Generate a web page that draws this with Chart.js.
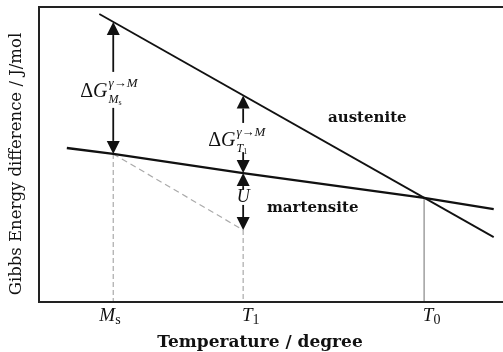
<!DOCTYPE html>
<html>
<head>
<meta charset="utf-8">
<script src="https://cdn.jsdelivr.net/npm/chart.js@4.4.1/dist/chart.umd.min.js"></script>
<style>
  body { margin: 0; background: #fff; }
  canvas { display: block; }
</style>
</head>
<body>
<canvas id="chart" width="503" height="352"></canvas>
<script>
// free energy curves, arbitrary units (temperature 0-100, energy 0-100)
const austeniteT = [13, 98]
const austeniteG = [97.6, 22]
const martensiteT = [6, 16, 44, 83, 98]
const martensiteG = [52.2, 50.2, 43.7, 35.3, 31.5]
// extrapolated (dashed) line from Ms to T1
const undercoolT = [16, 44]
const undercoolG = [50.2, 24.4]

// marked temperatures: Ms, T1, T0
const markT = [16, 44, 83]
const markG = [50.2, 24.4, 35.3]
const markName = ['M', 'T', 'T']
const markSub = ['s', '1', '0']

// arrows: shaft start -> tip
const arrowT = [16, 16, 44, 44, 44, 44]
const arrowFrom = [78, 65.8, 60.7, 50.8, 38, 32.9]
const arrowTo = [94.9, 50.2, 70.0, 43.7, 43.7, 24.4]

const toPoints = (xs, ys) => xs.map((x, i) => ({x: x, y: ys[i]}))

const serif = '"Liberation Serif", "DejaVu Serif", serif'
const wideSerif = '"DejaVu Serif", serif'

const datasets = [
  {data: toPoints(austeniteT, austeniteG), borderColor: '#111', borderWidth: 1.8},
  {data: toPoints(martensiteT, martensiteG), borderColor: '#111', borderWidth: 2.4},
  {data: toPoints(undercoolT, undercoolG), borderColor: '#aaa', borderWidth: 1.2, borderDash: [6, 4]},
  {data: toPoints([markT[0], markT[0]], [markG[0], 0]), borderColor: '#aaa', borderWidth: 1.2, borderDash: [5, 3]},
  {data: toPoints([markT[1], markT[1]], [markG[1], 0]), borderColor: '#aaa', borderWidth: 1.2, borderDash: [5, 3]},
  {data: toPoints([markT[2], markT[2]], [markG[2], 0]), borderColor: '#999', borderWidth: 1.4}
]
datasets.forEach(d => { d.pointRadius = 0; d.fill = false; d.tension = 0 })

// draws frame, arrows and all the text
const annotations = {
  id: 'annotations',
  afterDatasetsDraw(chart) {
    const ctx = chart.ctx
    const a = chart.chartArea
    const sx = chart.scales.x
    const sy = chart.scales.y
    ctx.save()

    // frame (no right side)
    ctx.strokeStyle = '#222'
    ctx.lineWidth = 2
    ctx.beginPath()
    ctx.moveTo(a.right, a.top)
    ctx.lineTo(a.left, a.top)
    ctx.lineTo(a.left, a.bottom)
    ctx.lineTo(a.right, a.bottom)
    ctx.stroke()

    // arrows
    ctx.fillStyle = '#111'
    ctx.strokeStyle = '#111'
    ctx.lineWidth = 1.8
    arrowT.forEach((t, i) => {
      const px = sx.getPixelForValue(t)
      const y0 = sy.getPixelForValue(arrowFrom[i])
      const y1 = sy.getPixelForValue(arrowTo[i])
      const dir = y1 > y0 ? 1 : -1
      const head = 13
      ctx.beginPath()
      ctx.moveTo(px, y0)
      ctx.lineTo(px, y1 - dir * head)
      ctx.stroke()
      ctx.beginPath()
      ctx.moveTo(px, y1)
      ctx.lineTo(px - 6.5, y1 - dir * head)
      ctx.lineTo(px + 6.5, y1 - dir * head)
      ctx.closePath()
      ctx.fill()
    })

    ctx.fillStyle = '#111'
    ctx.textBaseline = 'alphabetic'

    // delta G labels
    const deltaG = (x, y, sub, subSmall) => {
      ctx.textAlign = 'left'
      ctx.font = '20px ' + serif
      ctx.fillText('Δ', x, y)
      let w = ctx.measureText('Δ').width
      ctx.font = 'italic 20px ' + serif
      ctx.fillText('G', x + w, y)
      w += ctx.measureText('G').width + 1
      ctx.font = 'italic 13px ' + serif
      ctx.fillText('γ→M', x + w, y - 10)
      ctx.font = 'italic 12px ' + serif
      ctx.fillText(sub, x + w, y + 6)
      const sw = ctx.measureText(sub).width
      ctx.font = '8px ' + serif
      ctx.fillText(subSmall, x + w + sw, y + 8)
    }
    deltaG(sx.getPixelForValue(markT[0]) - 33, 97, 'M', 's')
    deltaG(sx.getPixelForValue(markT[1]) - 35, 146, 'T', '1')

    // U
    ctx.textAlign = 'center'
    ctx.font = 'italic 18px ' + serif
    ctx.fillText('U', sx.getPixelForValue(markT[1]), 202)

    // phase names
    ctx.textAlign = 'left'
    ctx.font = 'bold 15px ' + wideSerif
    ctx.fillText('austenite', 328, 122)
    ctx.fillText('martensite', 267, 212)

    // temperature marks under the axis
    const shift = [-6, 4, 4]
    markT.forEach((t, i) => {
      const px = sx.getPixelForValue(t) + shift[i]
      ctx.font = 'italic 19px ' + serif
      ctx.textAlign = 'center'
      ctx.fillText(markName[i], px, a.bottom + 19)
      const w = ctx.measureText(markName[i]).width
      ctx.font = '14px ' + serif
      ctx.textAlign = 'left'
      ctx.fillText(markSub[i], px + w / 2, a.bottom + 22)
    })

    // axis titles
    ctx.textAlign = 'center'
    ctx.font = 'bold 17px ' + wideSerif
    ctx.fillText('Temperature / degree', 260, 347)

    ctx.translate(21, 164)
    ctx.rotate(-Math.PI / 2)
    ctx.font = '16.5px ' + wideSerif
    ctx.fillText('Gibbs Energy difference / J/mol', 0, 0)

    ctx.restore()
  }
}

new Chart(document.getElementById('chart'), {
  type: 'line',
  data: {datasets: datasets},
  options: {
    responsive: false,
    animation: false,
    devicePixelRatio: 1,
    layout: {padding: {left: 39, top: 7, right: 0, bottom: 50}},
    plugins: {legend: {display: false}, tooltip: {enabled: false}},
    scales: {
      x: {type: 'linear', min: 0, max: 100, display: false},
      y: {type: 'linear', min: 0, max: 100, display: false}
    }
  },
  plugins: [annotations]
})
</script>
</body>
</html>
